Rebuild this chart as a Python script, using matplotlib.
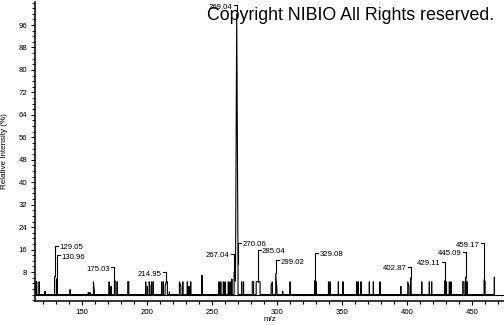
import matplotlib
matplotlib.use("Agg")
import matplotlib.pyplot as plt
from matplotlib.ticker import FixedLocator, MultipleLocator

# Peak list (m/z, relative intensity %)
mz = [114.6, 115.4, 117.2, 121.7, 129.05, 130.96, 141.0, 155.0, 156.3, 158.9,
      159.6, 171.0, 172.4, 175.03, 176.1, 177.3, 185.3, 186.1, 199.1, 200.4,
      201.7, 202.4, 203.7, 205.0, 211.4, 212.7, 214.0, 214.95, 215.75, 217.3,
      225.0, 226.1, 227.6, 231.1, 232.4, 233.7, 242.4, 255.5, 256.8, 258.8,
      260.1, 262.6, 263.9, 265.3, 267.04, 268.1, 269.04, 270.06, 272.9, 274.3,
      281.0, 282.0, 284.0, 285.04, 286.0, 287.0, 295.5, 296.5, 299.02, 300.0,
      304.4, 310.1, 329.08, 330.2, 339.6, 340.8, 347.2, 350.8, 361.3, 362.5,
      364.6, 371.0, 374.1, 379.2, 395.2, 400.5, 401.5, 402.87, 411.3, 417.1,
      418.9, 429.11, 430.3, 432.5, 433.8, 442.8, 443.8, 445.09, 446.3, 459.17,
      460.0, 467.1]
intensity = [4.6, 4.6, 4.6, 1.2, 6.5, 5.8, 1.8, 0.8, 0.8, 4.6,
             1.5, 4.6, 3.0, 5.0, 4.6, 4.6, 4.6, 4.6, 4.6, 3.0,
             4.6, 3.0, 4.6, 4.6, 4.6, 4.6, 3.0, 4.6, 4.6, 1.0,
             4.6, 3.0, 4.6, 4.6, 3.0, 4.6, 7.0, 4.6, 4.6, 4.6,
             4.6, 4.6, 4.6, 5.6, 8.0, 4.6, 100.0, 11.0, 4.6, 4.6,
             4.6, 4.6, 4.6, 4.6, 4.6, 4.6, 3.4, 4.6, 7.5, 1.5,
             1.2, 4.6, 5.0, 4.6, 4.6, 4.6, 4.6, 4.6, 4.6, 4.6,
             4.6, 4.6, 4.6, 4.6, 3.0, 4.6, 3.0, 6.0, 4.6, 4.6,
             4.6, 5.0, 4.6, 4.6, 4.6, 4.6, 4.6, 6.3, 4.6, 5.3,
             4.6, 6.3]

# Labelled peaks: flag height and which side the text sits on
label_mz = [129.05, 130.96, 175.03, 214.95, 267.04, 269.04, 270.06,
            285.04, 299.02, 329.08, 402.87, 429.11, 445.09, 459.17]
label_level = [17.3, 14.0, 9.7, 7.9, 14.5, 103.0, 18.4,
               16.0, 12.3, 14.9, 9.9, 11.7, 15.2, 18.2]
label_side = ['r', 'r', 'l', 'l', 'l', 'l', 'r',
              'r', 'r', 'r', 'l', 'l', 'l', 'l']

y_ticks = list(range(8, 97, 8))

small = ['Liberation Sans Narrow', 'Liberation Sans', 'DejaVu Sans']

fig = plt.figure(figsize=(5.04, 3.25), dpi=100)
ax = fig.add_axes([35 / 504, 24 / 325, 469 / 504, 299 / 325])
ax.set_xlim(114.0, 474.5)
ax.set_ylim(-2.3, 104.2)

# build the trace: close peaks are joined top to top like a profile
xs, ys = [], []
for i, (m, h) in enumerate(zip(mz, intensity)):
    if i == 0 or m - mz[i - 1] > 1.1:
        xs.append(m)
        ys.append(0)
    xs.append(m)
    ys.append(h)
    if i == len(mz) - 1 or mz[i + 1] - m > 1.1:
        xs.append(m)
        ys.append(0)
ax.axhline(0, color='black', lw=0.8)
ax.plot(xs, ys, color='black', lw=0.8, solid_joinstyle='miter')

# peak labels with little flags
px = ax.bbox.width / (474.5 - 114.0)
stub = 3 / px
for m, lev, side in zip(label_mz, label_level, label_side):
    h = intensity[mz.index(m)]
    ax.plot([m, m], [h, lev], color='black', lw=0.8)
    if side == 'r':
        ax.plot([m, m + stub], [lev, lev], color='black', lw=0.8)
        ax.annotate(f"{m:.2f}", (m + stub, lev), xytext=(1.5, -2),
                    textcoords='offset pixels', ha='left', va='center',
                    fontsize=5.6, family=small)
    else:
        ax.plot([m - stub, m], [lev, lev], color='black', lw=0.8)
        ax.annotate(f"{m:.2f}", (m - stub, lev), xytext=(-1.5, -2),
                    textcoords='offset pixels', ha='right', va='center',
                    fontsize=5.6, family=small)

ax.spines['top'].set_visible(False)
ax.spines['right'].set_visible(False)
ax.spines['left'].set_linewidth(1.1)
ax.spines['bottom'].set_linewidth(1.1)

ax.xaxis.set_major_locator(MultipleLocator(50))
ax.xaxis.set_minor_locator(MultipleLocator(10))
ax.yaxis.set_major_locator(FixedLocator(y_ticks))
ax.yaxis.set_minor_locator(MultipleLocator(2))
ax.tick_params(which='major', direction='out', length=3, width=0.8, pad=2.5)
ax.tick_params(which='minor', direction='out', length=2, width=0.8)
for t in ax.get_xticklabels() + ax.get_yticklabels():
    t.set_family(small)
    t.set_fontsize(5.6)

ax.set_ylabel("Relative Intensity (%)", family=small, fontsize=5.8)
ax.yaxis.set_label_coords(-0.058, 0.5)
ax.set_xlabel("m/z", family=small, fontsize=5.8)
ax.xaxis.set_label_coords(0.5, -0.05)

fig.text(207 / 504, 1 - 20 / 325, "Copyright NIBIO All Rights reserved.",
         family=['Liberation Sans', 'DejaVu Sans'], fontsize=12.8,
         va='baseline', ha='left')

fig.savefig("out.png", dpi=100)
